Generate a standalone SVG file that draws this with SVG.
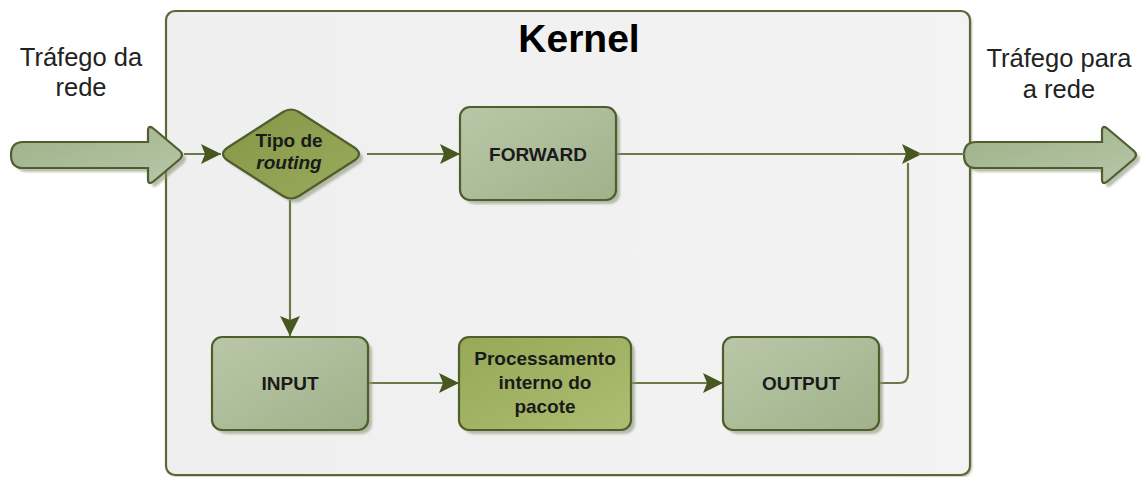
<svg xmlns="http://www.w3.org/2000/svg" width="1141" height="477" viewBox="0 0 1141 477">
  <defs>
    <linearGradient id="gBox" x1="0" y1="0" x2="1" y2="1">
      <stop offset="0" stop-color="#b9c7a8"/>
      <stop offset="1" stop-color="#a1b18a"/>
    </linearGradient>
    <linearGradient id="gProc" x1="0" y1="0" x2="1" y2="1">
      <stop offset="0" stop-color="#97a857"/>
      <stop offset="1" stop-color="#aebd72"/>
    </linearGradient>
    <linearGradient id="gDia" x1="0" y1="0" x2="1" y2="1">
      <stop offset="0" stop-color="#859647"/>
      <stop offset="1" stop-color="#9aab5d"/>
    </linearGradient>
    <linearGradient id="gBig" x1="0" y1="0" x2="1" y2="1">
      <stop offset="0" stop-color="#9db188"/>
      <stop offset="1" stop-color="#b8c6a8"/>
    </linearGradient>
    <linearGradient id="gKernel" x1="0" y1="0" x2="1" y2="0">
      <stop offset="0" stop-color="#efefef"/>
      <stop offset="1" stop-color="#f3f3f3"/>
    </linearGradient>
    <filter id="soft" x="-10%" y="-10%" width="130%" height="130%">
      <feGaussianBlur stdDeviation="1.2"/>
    </filter>
    <marker id="ah" viewBox="0 0 20 20" refX="20" refY="10" markerWidth="20" markerHeight="20" markerUnits="userSpaceOnUse" orient="auto">
      <path d="M0,0 L20,10 L0,20 L4,10 Z" fill="#48561f"/>
    </marker>
    <style>
      .box { stroke: #4f5e2c; stroke-width: 2.2; }
      .shadow { fill: #8e957a; opacity: 0.6; filter: url(#soft); }
      .lbl { font-family: "Liberation Sans", Arial, sans-serif; font-weight: bold; font-size: 19px; fill: #1a1a1a; text-anchor: middle; }
      .side { font-family: "Liberation Sans", Arial, sans-serif; font-size: 25.5px; fill: #222; text-anchor: middle; }
      .conn { fill: none; stroke: #6c7a4b; stroke-width: 2.2; }
    </style>
  </defs>

  <rect width="1141" height="477" fill="#ffffff"/>

  <!-- Kernel container -->
  <g id="kernel">
    <rect x="168" y="13" width="804" height="464" rx="9" class="shadow" opacity="0.35"/>
    <rect x="166" y="11" width="804" height="464" rx="9" fill="url(#gKernel)" stroke="#5a6934" stroke-width="2.2"/>
    <text x="579" y="52" font-family="'Liberation Sans', Arial, sans-serif" font-weight="bold" font-size="39" fill="#000" text-anchor="middle">Kernel</text>
  </g>

  <!-- External traffic labels -->
  <g id="label-in">
    <text class="side" x="81" y="66">Tráfego da</text>
    <text class="side" x="81" y="96">rede</text>
  </g>
  <g id="label-out">
    <text class="side" x="1059" y="67">Tráfego para</text>
    <text class="side" x="1059" y="98">a rede</text>
  </g>

  <!-- Incoming traffic arrow -->
  <g id="arrow-in">
    <path class="shadow" transform="translate(4,4)" d="M23,142 L148,142 L148,131 Q148,124 154,129 L180,151 Q184,155 180,159 L154,181 Q148,186 148,179 L148,168 L23,168 Q11,168 11,155 Q11,142 23,142 Z"/>
    <path class="box" fill="url(#gBig)" d="M23,142 L148,142 L148,131 Q148,124 154,129 L180,151 Q184,155 180,159 L154,181 Q148,186 148,179 L148,168 L23,168 Q11,168 11,155 Q11,142 23,142 Z"/>
  </g>

  <!-- Outgoing traffic arrow -->
  <g id="arrow-out">
    <path class="shadow" transform="translate(4,4)" d="M976,142 L1102,142 L1102,131 Q1102,124 1108,129 L1134,151 Q1138,155 1134,159 L1108,181 Q1102,186 1102,179 L1102,168 L976,168 Q964,168 964,155 Q964,142 976,142 Z"/>
    <path class="box" fill="url(#gBig)" d="M976,142 L1102,142 L1102,131 Q1102,124 1108,129 L1134,151 Q1138,155 1134,159 L1108,181 Q1102,186 1102,179 L1102,168 L976,168 Q964,168 964,155 Q964,142 976,142 Z"/>
  </g>

  <!-- Connectors -->
  <g id="connectors">
    <line class="conn" x1="184" y1="154" x2="221" y2="154" marker-end="url(#ah)"/>
    <line class="conn" x1="367" y1="154" x2="460" y2="154" marker-end="url(#ah)"/>
    <line class="conn" x1="616" y1="154" x2="922" y2="154" marker-end="url(#ah)"/>
    <line class="conn" x1="918" y1="154" x2="965" y2="154"/>
    <line class="conn" x1="290" y1="200" x2="290" y2="336" marker-end="url(#ah)"/>
    <line class="conn" x1="368" y1="383" x2="459" y2="383" marker-end="url(#ah)"/>
    <line class="conn" x1="631" y1="383" x2="723" y2="383" marker-end="url(#ah)"/>
    <path class="conn" d="M879,383 L899,383 Q908,383 908,374 L908,163"/>
  </g>

  <!-- Routing decision -->
  <g id="routing">
    <path class="shadow" transform="translate(4,4)" d="M283,112 Q291,107 299,112 L355,148 Q363,154 355,160 L299,196 Q291,201 283,196 L227,160 Q219,154 227,148 Z"/>
    <path class="box" fill="url(#gDia)" d="M283,112 Q291,107 299,112 L355,148 Q363,154 355,160 L299,196 Q291,201 283,196 L227,160 Q219,154 227,148 Z"/>
    <text class="lbl" x="289" y="147" font-size="16.5">Tipo de</text>
    <text class="lbl" x="289" y="169" font-size="16.5" font-style="italic">routing</text>
  </g>

  <!-- FORWARD chain -->
  <g id="forward">
    <rect class="shadow" x="464" y="111" width="156" height="93" rx="10"/>
    <rect class="box" x="460" y="107" width="156" height="93" rx="10" fill="url(#gBox)"/>
    <text class="lbl" x="538" y="161">FORWARD</text>
  </g>

  <!-- INPUT chain -->
  <g id="input">
    <rect class="shadow" x="216" y="341" width="156" height="93" rx="10"/>
    <rect class="box" x="212" y="337" width="156" height="93" rx="10" fill="url(#gBox)"/>
    <text class="lbl" x="290" y="390">INPUT</text>
  </g>

  <!-- Local processing -->
  <g id="processing">
    <rect class="shadow" x="463" y="341" width="172" height="93" rx="10"/>
    <rect class="box" x="459" y="337" width="172" height="93" rx="10" fill="url(#gProc)"/>
    <text class="lbl" x="545" y="365">Processamento</text>
    <text class="lbl" x="545" y="389">interno do</text>
    <text class="lbl" x="545" y="413">pacote</text>
  </g>

  <!-- OUTPUT chain -->
  <g id="output">
    <rect class="shadow" x="727" y="341" width="156" height="93" rx="10"/>
    <rect class="box" x="723" y="337" width="156" height="93" rx="10" fill="url(#gBox)"/>
    <text class="lbl" x="801" y="390">OUTPUT</text>
  </g>
</svg>
